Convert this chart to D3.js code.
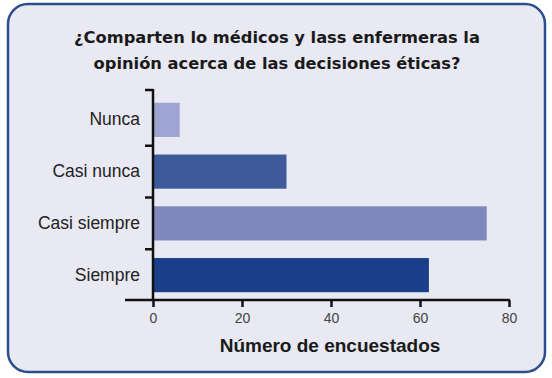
<!DOCTYPE html>
<html>
<head>
<meta charset="utf-8">
<script src="https://cdn.jsdelivr.net/npm/d3@7"></script>
<style>
  body { margin: 0; background: #ffffff; }
  text { font-family: "Liberation Sans", Arial, sans-serif; }
</style>
</head>
<body>
<svg width="552" height="378"></svg>
<script>
var categories = ["Nunca", "Casi nunca", "Casi siempre", "Siempre"];
var values = [6, 30, 75, 62];
var barColors = ["#9ea5d3", "#3d5a9b", "#8088bd", "#1a3f88"];
var xTicks = [0, 20, 40, 60, 80];
var titleLines = ["¿Comparten lo médicos y lass enfermeras la", "opinión acerca de las decisiones éticas?"];
var xTitle = "Número de encuestados";

var svg = d3.select("svg");

// frame
svg.append("rect")
  .attr("x", 8).attr("y", 4)
  .attr("width", 537).attr("height", 368)
  .attr("rx", 20).attr("ry", 20)
  .attr("fill", "#e8e9f2")
  .attr("stroke", "#2c4f8c")
  .attr("stroke-width", 2.5);

// title
svg.selectAll(".title")
  .data(titleLines)
  .enter()
  .append("text")
  .attr("class", "title")
  .attr("x", 277)
  .attr("y", function (d, i) { return 43 + i * 26 })
  .attr("text-anchor", "middle")
  .attr("font-size", 16.3)
  .attr("font-weight", "bold")
  .attr("fill", "#1a1a1a")
  .style("font-family", "DejaVu Sans, sans-serif")
  .text(function (d) { return d });

xScale = d3.scaleLinear()
  .domain([0, 80])
  .range([153, 509]);

yScale = d3.scaleBand()
  .domain(categories)
  .range([94, 301])
  .paddingInner(0.34)
  .paddingOuter(0.17);

// bars
svg.selectAll(".bar")
  .data(categories)
  .enter()
  .append("rect")
  .attr("class", "bar")
  .attr("x", xScale(0))
  .attr("y", function (d) { return yScale(d) })
  .attr("width", function (d, i) { return xScale(values[i]) - xScale(0) })
  .attr("height", yScale.bandwidth())
  .attr("fill", function (d, i) { return barColors[i] });

// x axis
xAxis = d3.axisBottom(xScale)
  .tickValues(xTicks)
  .tickSize(7)
  .tickPadding(6);

var xg = svg.append("g")
  .attr("id", "xAxisG")
  .attr("transform", "translate(0,300)")
  .call(xAxis);
xg.select(".domain").remove();
xg.selectAll("line").attr("stroke", "#111").attr("stroke-width", 2.5);
xg.selectAll("text").attr("font-size", 14).attr("fill", "#444")
  .style("font-family", "Liberation Sans, Arial, sans-serif");
xg.append("line")
  .attr("x1", 125).attr("x2", 510)
  .attr("y1", 0).attr("y2", 0)
  .attr("stroke", "#111").attr("stroke-width", 2.5);

// y axis labels
yAxis = d3.axisLeft(yScale)
  .tickSize(0)
  .tickPadding(13);

var yg = svg.append("g")
  .attr("id", "yAxisG")
  .attr("transform", "translate(153,0)")
  .call(yAxis);
yg.select(".domain").remove();
yg.selectAll("text").attr("font-size", 17.5).attr("fill", "#222")
  .style("font-family", "Liberation Sans, Arial, sans-serif");

// y axis line and boundary ticks
var step = yScale.step();
var bounds = categories.map(function (d) { return yScale(d) - yScale.paddingInner() * step / 2 });
bounds[0] = 90;
yg.append("line")
  .attr("x1", 0).attr("x2", 0)
  .attr("y1", 89).attr("y2", 301)
  .attr("stroke", "#111").attr("stroke-width", 2.5);
yg.selectAll(".bnd")
  .data(bounds)
  .enter()
  .append("line")
  .attr("class", "bnd")
  .attr("x1", -8).attr("x2", 0)
  .attr("y1", function (d) { return d }).attr("y2", function (d) { return d })
  .attr("stroke", "#111").attr("stroke-width", 2.5);

// x title
svg.append("text")
  .attr("x", 330)
  .attr("y", 352)
  .attr("text-anchor", "middle")
  .attr("font-size", 19)
  .attr("font-weight", "bold")
  .attr("fill", "#1a1a1a")
  .text(xTitle);
</script>
</body>
</html>
